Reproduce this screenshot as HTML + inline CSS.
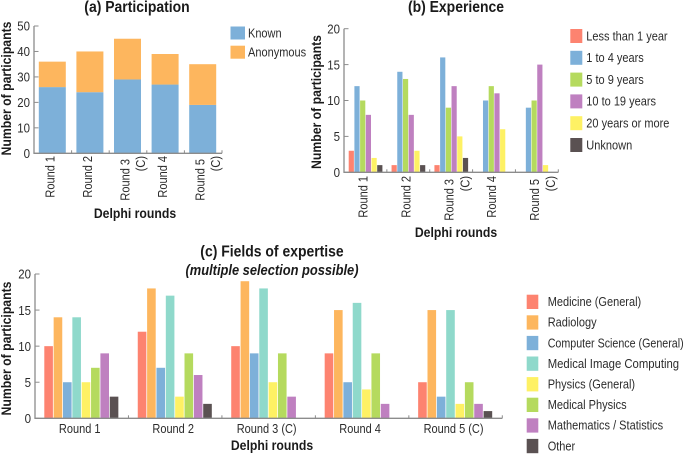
<!DOCTYPE html>
<html lang="en">
<head>
<meta charset="utf-8">
<title>Delphi rounds charts</title>
<style>
html,body{margin:0;padding:0;background:#fff;width:685px;height:454px;overflow:hidden}
svg{display:block}
text{font-family:"Liberation Sans",sans-serif;fill:#2c2c2c;font-size:12.5px}
.title{font-weight:bold;font-size:15.5px;fill:#1a1a1a}
.sub{font-weight:bold;font-style:italic;font-size:14.3px;fill:#1a1a1a}
.axt{font-weight:bold;font-size:13.6px;fill:#1a1a1a}
.ytick{font-size:13px}
</style>
</head>
<body>
<svg id="fig" width="685" height="454" viewBox="0 0 685 454" xmlns="http://www.w3.org/2000/svg">
  <text class="title" x="137" y="12" text-anchor="middle">(a) Participation</text>
  <text class="title" x="456" y="12" text-anchor="middle">(b) Experience</text>
  <text class="title" x="272" y="256.5" text-anchor="middle">(c) Fields of expertise</text>
  <text class="sub" x="272" y="275" text-anchor="middle">(multiple selection possible)</text>
  <text class="axt" x="135" y="218" text-anchor="middle">Delphi rounds</text>
  <text class="axt" x="456" y="237" text-anchor="middle">Delphi rounds</text>
  <text class="axt" x="272" y="450" text-anchor="middle">Delphi rounds</text>
  <text class="axt" transform="translate(11,88.5) rotate(-90)" text-anchor="middle">Number of participants</text>
  <text class="axt" transform="translate(321,102) rotate(-90)" text-anchor="middle">Number of participants</text>
  <text class="axt" transform="translate(11,348.5) rotate(-90)" text-anchor="middle">Number of participants</text>
</svg>
<script>
const roundsA = ["Round 1", "Round 2", "Round 3|(C)", "Round 4", "Round 5|(C)"];
const roundsC = ["Round 1", "Round 2", "Round 3 (C)", "Round 4", "Round 5 (C)"];

const ticksA = [0, 10, 20, 30, 40, 50];
const ticksB = [0, 5, 10, 15, 20];
const ticksC = [0, 5, 10, 15, 20];

const knownValues = [26, 24, 29, 27, 19];
const anonymousValues = [10, 16, 16, 12, 16];

const expLess1 = [3, 1, 1, 0, 0];
const exp1to4 = [12, 14, 16, 10, 9];
const exp5to9 = [10, 13, 9, 12, 10];
const exp10to19 = [8, 8, 12, 11, 15];
const exp20plus = [2, 3, 5, 6, 1];
const expUnknown = [1, 1, 2, 0, 0];

const fieldMedicine = [10, 12, 10, 9, 5];
const fieldRadiology = [14, 18, 19, 15, 15];
const fieldCompSci = [5, 7, 9, 5, 3];
const fieldMIC = [14, 17, 18, 16, 15];
const fieldPhysics = [5, 3, 5, 4, 2];
const fieldMedPhysics = [7, 9, 9, 9, 5];
const fieldMath = [9, 6, 3, 2, 2];
const fieldOther = [3, 2, 0, 0, 1];

const legendA = ["Known", "Anonymous"];
const legendB = ["Less than 1 year", "1 to 4 years", "5 to 9 years", "10 to 19 years", "20 years or more", "Unknown"];
const legendC = ["Medicine (General)", "Radiology", "Computer Science (General)", "Medical Image Computing", "Physics (General)", "Medical Physics", "Mathematics / Statistics", "Other"];

const RED = "#fd8370", ORANGE = "#fdb65e", BLUE = "#7db0d9", TEAL = "#8fd9cb",
      YELLOW = "#fef164", GREEN = "#b5da5e", PURPLE = "#bf80c0", DARK = "#5a5152";

const NS = "http://www.w3.org/2000/svg";
const fig = document.getElementById("fig");

function make(tag, props) {
  const el = document.createElementNS(NS, tag);
  for (const k in props) el.setAttribute(k, props[k]);
  fig.appendChild(el);
  return el;
}
function makeText(str, props) {
  const el = make("text", props);
  el.textContent = str;
  return el;
}
function scaleY(y0, yTop, max) {
  return v => y0 - (v / max) * (y0 - yTop);
}
function drawAxes(prefix, x0, x1, y0, y, ticks, nBands) {
  const yAxis = make("line", {x1: x0, x2: x0, y1: y0, y2: y(ticks[ticks.length - 1]), stroke: "#8c8c8c", "stroke-width": 1.3});
  
  
  const xAxis = make("line", {x1: x0 - 0.6, x2: x1, y1: y0, y2: y0, stroke: "#8c8c8c", "stroke-width": 1.3});
  
  
  ticks.forEach(t => {
    const tick = make("line", {x1: x0, x2: x0 + 4.5, y1: y(t), y2: y(t), stroke: "#8c8c8c", "stroke-width": 1});
    
    
    const label = makeText(String(t), {x: x0 - 4, y: y(t), dy: "0.36em", "text-anchor": "end", class: "ytick"});
    
    
  });
  const band = (x1 - x0) / nBands;
  for (let i = 1; i <= nBands; i++) {
    const tick = make("line", {x1: x0 + band * i, x2: x0 + band * i, y1: y0, y2: y0 - 3, stroke: "#8c8c8c", "stroke-width": 1});
    
    
  }
}
function drawLegend(prefix, names, colors, swX, swY, swW, swH, step, txtX) {
  names.forEach((n, i) => {
    const sw = make("rect", {x: swX, y: swY + step * i, width: swW, height: swH, fill: colors[i]});
    
    
    const lb = makeText(n, {x: txtX, y: swY + swH / 2 + step * i, dy: "0.34em"});
    
    
  });
}
function rotatedLabels(prefix, labels, x0, band, top, shift, secondOffset) {
  labels.forEach((lab, i) => {
    const parts = lab.split("|");
    const cx = x0 + band * (i + 0.5) + shift;
    const t = makeText(parts[0], {transform: "translate(" + cx + "," + (top + (parts.length > 1 ? 3 : 0)) + ") rotate(-90)", dy: "0.36em", "text-anchor": "end"});
    
    
    if (parts[1]) {
      const c = makeText(parts[1], {transform: "translate(" + (cx + secondOffset) + "," + top + ") rotate(-90)", dy: "0.36em", "text-anchor": "end"});
      
      
    }
  });
}

/* (a) stacked bars */
(function () {
  const x0 = 34, x1 = 222, y0 = 153.3;
  const y = scaleY(y0, 26, 50);
  const band = (x1 - x0) / roundsA.length;
  const w = 27;
  roundsA.forEach((r, i) => {
    const bx = x0 + band * i + 4.8;
    const a = make("rect", {x: bx, y: y(knownValues[i]), width: w, height: y0 - y(knownValues[i]), fill: BLUE});
    
    
    const top = knownValues[i] + anonymousValues[i];
    const b = make("rect", {x: bx, y: y(top), width: w, height: y(knownValues[i]) - y(top), fill: ORANGE});
    
    
  });
  drawAxes("participation", x0, x1, y0, y, ticksA, roundsA.length);
  rotatedLabels("participation", roundsA, x0, band, 156, -3, 15.5);
  drawLegend("participation", legendA, [BLUE, ORANGE], 230.5, 26.5, 14.5, 13, 19.2, 248);
})();

/* (b) grouped bars */
(function () {
  const x0 = 344, x1 = 558.3, y0 = 172.3;
  const y = scaleY(y0, 28.7, 20);
  const band = (x1 - x0) / roundsA.length;
  const series = [expLess1, exp1to4, exp5to9, exp10to19, exp20plus, expUnknown];
  const colors = [RED, BLUE, GREEN, PURPLE, YELLOW, DARK];
  roundsA.forEach((r, i) => {
    series.forEach((s, j) => {
      const bar = make("rect", {x: x0 + band * i + 4.7 + 5.7 * j, y: y(s[i]), width: 5.2, height: y0 - y(s[i]), fill: colors[j]});
      
      
    });
  });
  drawAxes("experience", x0, x1, y0, y, ticksB, roundsA.length);
  rotatedLabels("experience", roundsA, x0, band, 176, -2.4, 16);
  drawLegend("experience", legendB, colors, 570.3, 29, 12, 14, 21.8, 586.3);
})();

/* (c) grouped bars */
(function () {
  const x0 = 35, x1 = 502.3, y0 = 418.3;
  const y = scaleY(y0, 274, 20);
  const band = (x1 - x0) / roundsC.length;
  const series = [fieldMedicine, fieldRadiology, fieldCompSci, fieldMIC, fieldPhysics, fieldMedPhysics, fieldMath, fieldOther];
  const colors = [RED, ORANGE, BLUE, TEAL, YELLOW, GREEN, PURPLE, DARK];
  roundsC.forEach((r, i) => {
    series.forEach((s, j) => {
      const bar = make("rect", {x: x0 + band * i + 9.3 + 9.35 * j, y: y(s[i]), width: 8.6, height: y0 - y(s[i]), fill: colors[j]});
      
      
    });
    const lab = makeText(r, {x: x0 + band * (i + 0.5) - 2, y: 428.7, dy: "0.36em", "text-anchor": "middle"});
    
    
  });
  drawAxes("fields", x0, x1, y0, y, ticksC, roundsC.length);
  drawLegend("fields", legendC, colors, 526.7, 294.7, 11.6, 14.3, 20.6, 547.7);
})();

/* Condense Liberation glyphs to the narrower proportions of the reference typeface */
const longLabelFit = {"Computer Science (General)": 0.855, "Medical Image Computing": 0.905};
fig.querySelectorAll("text").forEach(t => {
  const heading = t.classList.contains("title") || t.classList.contains("sub") || t.classList.contains("axt");
  const k = heading ? 0.9 : (longLabelFit[t.textContent] || 0.88);
  t.setAttribute("textLength", (t.getComputedTextLength() * k).toFixed(1));
  t.setAttribute("lengthAdjust", "spacingAndGlyphs");
});
</script>
</body>
</html>
